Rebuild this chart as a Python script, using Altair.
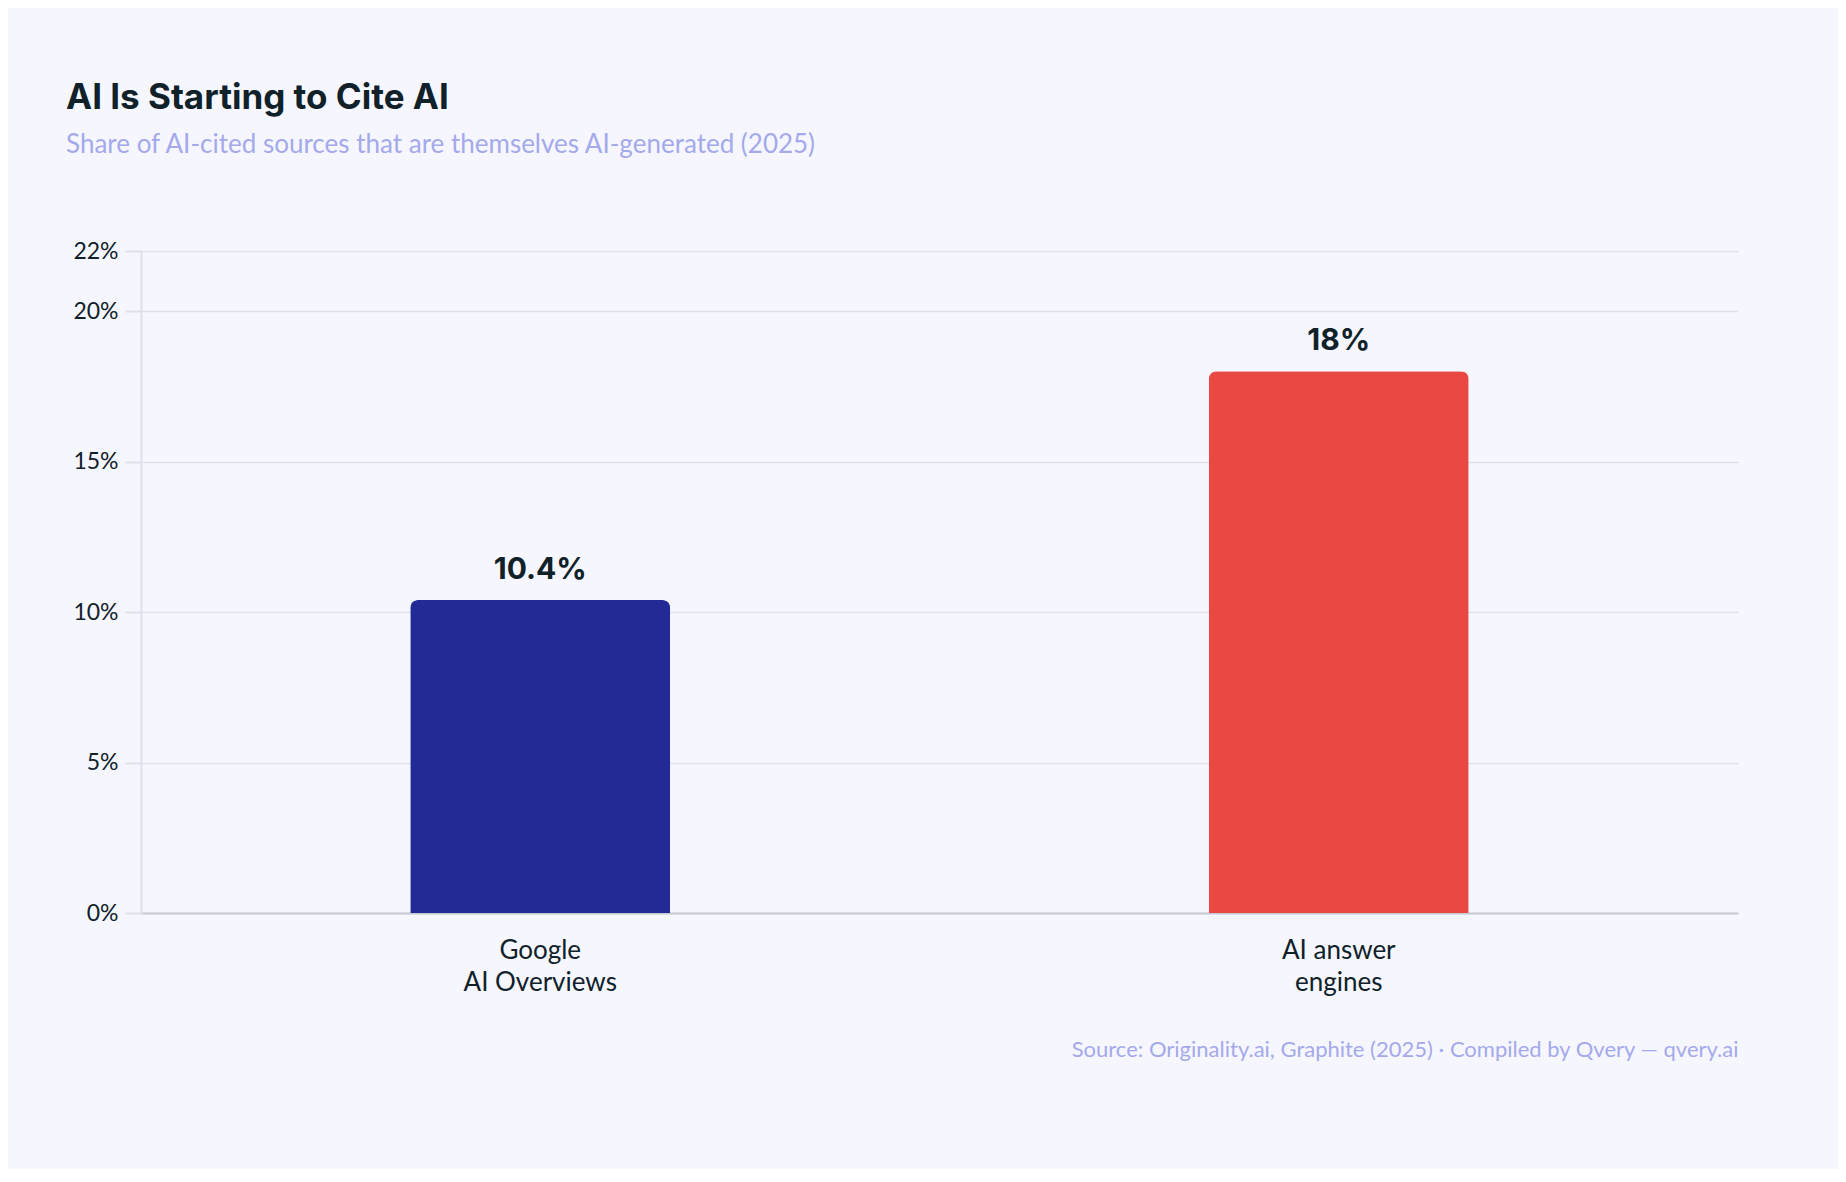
import altair as alt
import pandas as pd

# chart values
categories = ["Google\nAI Overviews", "AI answer\nengines"]
shares = [10.4, 18]
labels = ["10.4%", "18%"]
bar_colors = ["#222a95", "#ea4842"]
y_ticks = [0, 5, 10, 15, 20, 22]

df = pd.DataFrame({"source": categories, "share": shares, "label": labels})

ink = "#10212a"
muted = "#a4a9ec"
grid = "#dde1ec"

base = alt.Chart(df).encode(
    x=alt.X(
        "source:N",
        sort=categories,
        axis=alt.Axis(
            title="Source: Originality.ai, Graphite (2025) · Compiled by Qvery — qvery.ai",
            titleFont="Lato",
            titleFontSize=22,
            titleFontWeight="normal",
            titleColor=muted,
            titleAnchor="end",
            titleAlign="right",
            titlePadding=44,
            labelAngle=0,
            labelExpr="split(datum.label, '\\n')",
            labelFont="Lato",
            labelFontSize=26,
            labelColor=ink,
            labelLineHeight=32,
            labelPadding=24,
            ticks=False,
            domainColor="#c5c9d6",
            domainWidth=2,
            grid=False,
        ),
    ),
    y=alt.Y(
        "share:Q",
        scale=alt.Scale(domain=[0, 22], nice=False),
        axis=alt.Axis(
            title=None,
            values=y_ticks,
            labelExpr="datum.value + '%'",
            labelFont="Lato",
            labelFontSize=23,
            labelColor=ink,
            labelPadding=7,
            tickColor=grid,
            tickSize=16,
            tickWidth=2,
            domainColor=grid,
            domainWidth=2,
            gridColor=grid,
            gridWidth=1.5,
        ),
    ),
)

bars = base.mark_bar(size=260, cornerRadiusTopLeft=8, cornerRadiusTopRight=8).encode(
    color=alt.Color(
        "source:N",
        scale=alt.Scale(domain=categories, range=bar_colors),
        legend=None,
    )
)

text = base.mark_text(
    baseline="alphabetic", dy=-21, font="Inter", fontSize=30, fontWeight=700, color=ink
).encode(text="label:N")

chart = (
    alt.layer(bars, text)
    .properties(
        width=1597,
        height=662,
        background="#f6f7fe",
        autosize=alt.AutoSizeParams(type="none"),
        padding={"left": 133, "top": 243, "right": 100, "bottom": 256},
        title=alt.TitleParams(
            "AI Is Starting to Cite AI",
            subtitle="Share of AI-cited sources that are themselves AI-generated (2025)",
            anchor="start",
            frame="group",
            dx=-75,
            offset=82,
            font="Inter",
            fontSize=35,
            fontWeight=700,
            color=ink,
            subtitleFont="Lato",
            subtitleFontSize=26,
            subtitleColor=muted,
            subtitlePadding=16,
        ),
    )
    .configure_view(stroke=None)
)

chart.save("out.html", embed_options={"renderer": "svg", "actions": False})
